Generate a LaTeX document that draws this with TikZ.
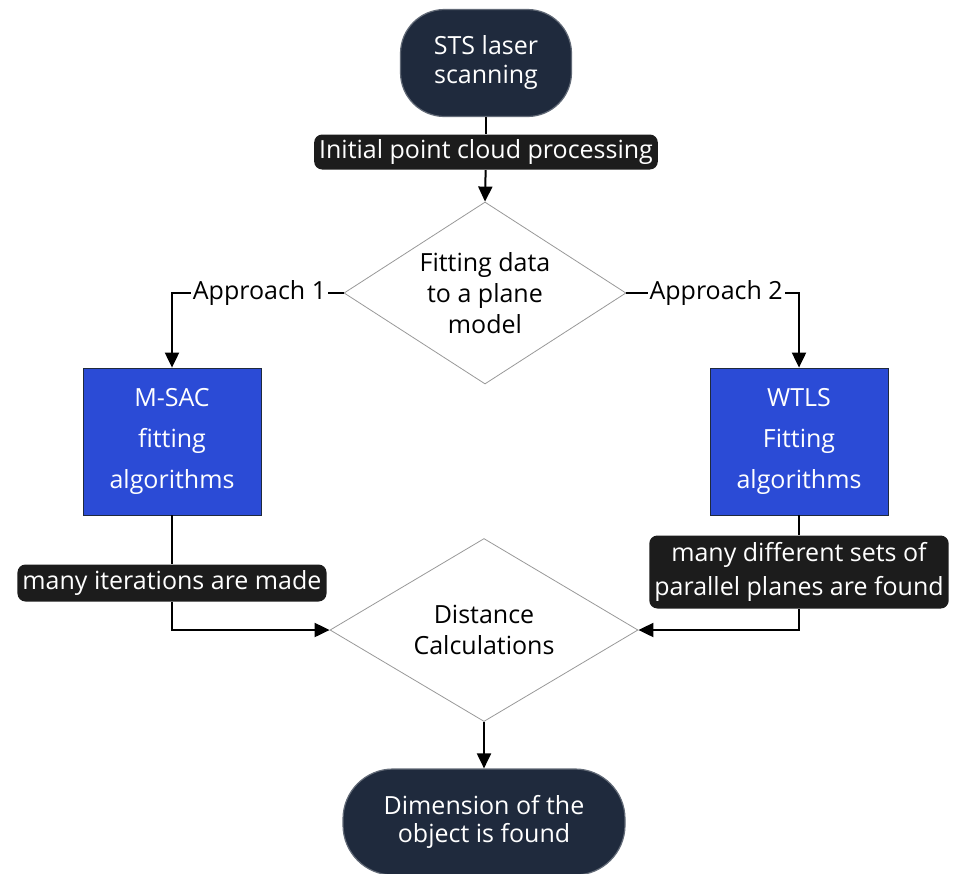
\documentclass[tikz,border=0pt]{standalone}
\usepackage{fontspec}
\setmainfont{Open Sans}
\usetikzlibrary{shapes.geometric, arrows.meta, positioning}
\definecolor{navy}{HTML}{1F2A3D}
\definecolor{algblue}{HTML}{2B4BD6}
\definecolor{tagblack}{HTML}{1C1C1C}

\begin{document}
\begin{tikzpicture}[x=0.5pt, y=-0.5pt, semithick, >={Triangle[width=7pt,length=7.5pt]},
    every node/.style={font=\fontsize{12.5}{14.5}\selectfont, align=center},
    terminal/.style={fill=navy, draw=navy!70, text=white, rounded corners=22pt, inner sep=0pt},
    decision/.style={diamond, draw=gray!80, thin, fill=white, inner sep=0pt},
    algbox/.style={rectangle, fill=algblue, draw=navy, thin, text=white, inner sep=0pt,
      minimum width=89pt, minimum height=73.5pt, font=\fontsize{12.5}{20.5}\selectfont},
    tag/.style={fill=tagblack, text=white, rounded corners=4pt, inner sep=2.5pt},
    flow/.style={line width=1pt}]
  \useasboundingbox (0,0) rectangle (956,873);

  % start and end
  \node[terminal, minimum width=85.5pt, minimum height=53.5pt] (sts) at (486,63) {STS laser\\scanning};
  \node[terminal, minimum width=141pt, minimum height=53pt, rounded corners=25pt,
    font=\fontsize{12.5}{14}\selectfont] (dim) at (484,822) {Dimension of the\\object is found};

  % decisions
  \node[decision, aspect=1.55, minimum width=141pt, minimum height=91pt,
    font=\fontsize{12.5}{15.5}\selectfont] (fit) at (485,293) {Fitting data\\to a plane\\model};
  \node[decision, aspect=1.68, minimum width=154pt, minimum height=91.5pt,
    font=\fontsize{12.5}{15.5}\selectfont] (dist) at (484,630) {Distance\\Calculations};

  % fitting algorithms
  \node[algbox] (msac) at (172,441.5) {M-SAC\\fitting\\algorithms};
  \node[algbox] (wtls) at (799,441.5) {WTLS\\Fitting\\algorithms};

  % labels on the connectors
  \node[tag, minimum height=16pt] (initial) at (486,152) {Initial point cloud processing};
  \node[tag, minimum height=18.5pt] (iters) at (172,583) {many iterations are made};
  \node[tag, minimum height=36.5pt, font=\fontsize{12.5}{17}\selectfont] (planes) at (799,572)
    {many different sets of\\parallel planes are found};

  \draw[flow] (sts) -- (initial);
  \draw[flow,->] (initial) -- (fit.north);
  \draw[flow,->] (fit.west) -| node[pos=0.245, fill=white, inner sep=1pt] {Approach 1} (msac.north);
  \draw[flow,->] (fit.east) -| node[pos=0.26, fill=white, inner sep=1pt] {Approach 2} (wtls.north);
  \draw[flow] (msac) -- (iters);
  \draw[flow] (wtls) -- (planes);
  \draw[flow,->] (iters) |- (dist.west);
  \draw[flow,->] (planes) |- (dist.east);
  \draw[flow,->] (dist.south) -- (dim);
\end{tikzpicture}
\end{document}
